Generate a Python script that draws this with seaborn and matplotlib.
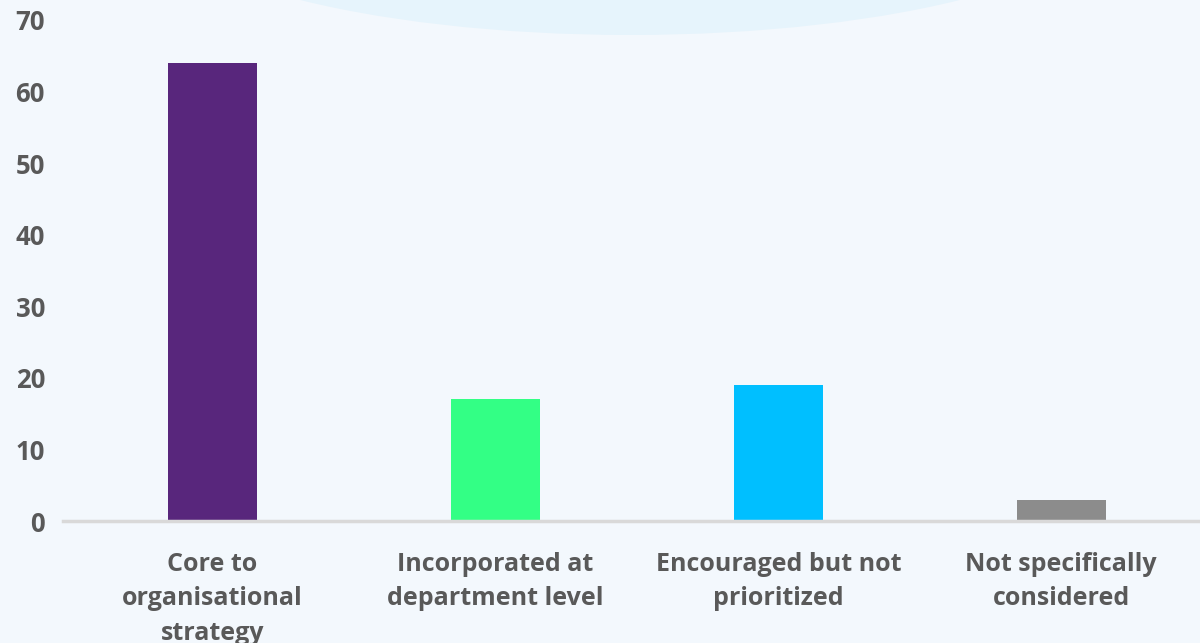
import matplotlib
matplotlib.use("Agg")
import matplotlib.pyplot as plt
from matplotlib.patches import Ellipse
import seaborn as sns
import pandas as pd

categories = [
    "Core to\norganisational\nstrategy",
    "Incorporated at\ndepartment level",
    "Encouraged but not\nprioritized",
    "Not specifically\nconsidered",
]
values = [64, 17, 19, 3]
bar_colors = ["#58267C", "#33FF85", "#00BFFF", "#8C8C8C"]
y_ticks = [0, 10, 20, 30, 40, 50, 60, 70]

sns.set_theme(style="white")
plt.rcParams["font.family"] = ["Open Sans", "DejaVu Sans"]

bg = "#F3F8FD"
fig = plt.figure(figsize=(12, 6.43), dpi=100, facecolor=bg)

# soft decorative ellipse at the top of the canvas
fig.patches.append(Ellipse((630 / 1200, 1 + 100 / 643), 2 * 491 / 1200, 2 * 135 / 643,
                           transform=fig.transFigure, facecolor="#E6F4FC",
                           edgecolor="none", zorder=0))

ax = fig.add_axes([63 / 1200, (643 - 521) / 643, 1 - 63 / 1200, (521 - 20) / 643])
ax.set_facecolor("none")

df = pd.DataFrame({"category": categories, "value": values})
sns.barplot(data=df, x="category", y="value", hue="category", palette=bar_colors,
            width=0.315, dodge=False, legend=False, ax=ax, saturation=1,
            edgecolor="none")

ax.set_xlim(-0.527, 3.49)
ax.set_ylim(0, 70)
ax.set_yticks(y_ticks)
ax.set_xlabel("")
ax.set_ylabel("")

for side in ["top", "right", "left"]:
    ax.spines[side].set_visible(False)
ax.spines["bottom"].set_color("#D9D9D9")
ax.spines["bottom"].set_linewidth(2.5)

ax.tick_params(axis="both", length=0, colors="#595959")
ax.tick_params(axis="y", pad=13)
ax.tick_params(axis="x", pad=22)
for lbl in ax.get_yticklabels():
    lbl.set_fontsize(18.5)
    lbl.set_fontweight("bold")
for lbl in ax.get_xticklabels():
    lbl.set_fontsize(18)
    lbl.set_fontweight("bold")
    lbl.set_linespacing(1.5)
    lbl.set_verticalalignment("top")

fig.savefig("out.png", dpi=100, facecolor=bg)
